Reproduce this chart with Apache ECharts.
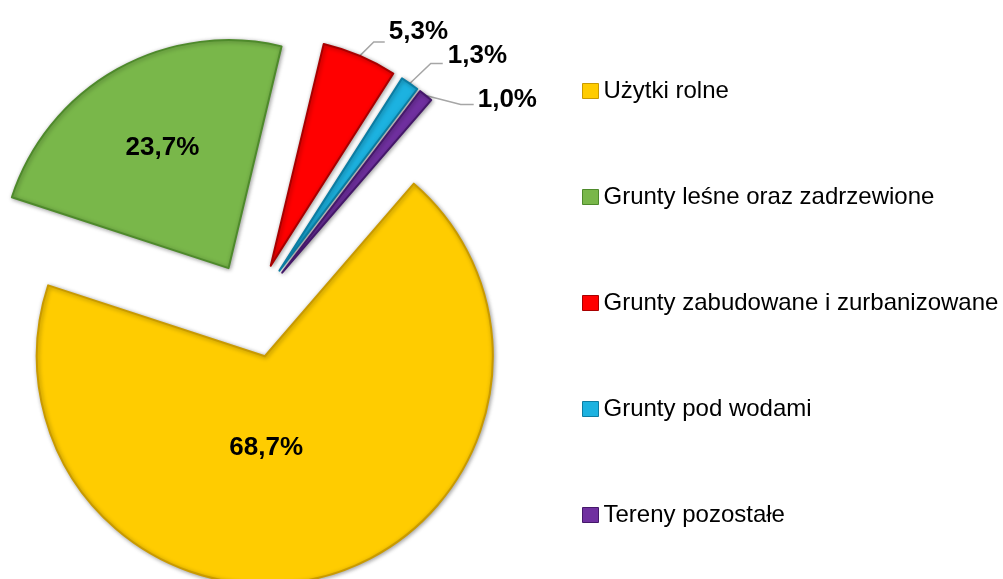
<!DOCTYPE html>
<html><head><meta charset="utf-8">
<script src="https://cdn.jsdelivr.net/npm/echarts@6/dist/echarts.min.js"></script>
<style>html,body{margin:0;padding:0;background:#fff}#c{width:1003px;height:579px}</style>
</head><body><div id="c"></div>
<script>
// ---- data ----
const categories = ['Użytki rolne', 'Grunty leśne oraz zadrzewione', 'Grunty zabudowane i zurbanizowane', 'Grunty pod wodami', 'Tereny pozostałe'];
const values = [68.7, 23.7, 5.3, 1.3, 1.0];

// ---- styles ----
const colors = ['#FFCC00', '#79B74A', '#FF0000', '#1CB2E0', '#7030A0'];
const rimColors = ['#C99A00', '#4E8A2B', '#A80000', '#0C7DA3', '#45186A'];
const labelPos = ['inside', 'inside', 'outside', 'outside', 'outside'];
// inside: shift from default; outside: leader bend (bx,by), horizontal run hx, text offset (tx,ty)
const labelAdj = [
  {dx: -30, dy: -21},
  {dx: -9, dy: -18},
  {bx: 14, by: -14, hx: 11, tx: 4, ty: -10},
  {bx: 21, by: -20, hx: 12, tx: 5, ty: -8},
  {bx: 35, by: 9, hx: 13, tx: 4, ty: -5}
];
const C = [252, 310], R = 228, EXPLODE = 48, START = 49.2;
const labelFont = "'Liberation Sans', Arial, sans-serif";

const total = values.reduce((a, b) => a + b, 0);
let acc = 0;
const series = categories.map((name, k) => {
  const midDeg = START - (acc + values[k] / 2) / total * 360;
  acc += values[k];
  const rad = midDeg * Math.PI / 180;
  const center = [C[0] + EXPLODE * Math.cos(rad), C[1] - EXPLODE * Math.sin(rad)];
  const adj = labelAdj[k];
  return {
    type: 'pie',
    center: center,
    radius: R,
    startAngle: START,
    clockwise: true,
    avoidLabelOverlap: false,
    silent: true,
    animation: false,
    label: {
      position: labelPos[k],
      fontFamily: labelFont,
      fontWeight: 'bold',
      fontSize: 26,
      color: '#000',
      formatter: p => p.value.toFixed(1).replace('.', ',') + '%'
    },
    labelLine: {
      length: 10, length2: 10,
      lineStyle: {color: '#A6A6A6', width: 1.5}
    },
    labelLayout: function (p) {
      if (p.dataIndex !== k) return {};
      const r = p.labelRect;
      if (labelPos[k] === 'inside') {
        return {x: r.x + r.width / 2 + adj.dx, y: r.y + r.height / 2 + adj.dy, align: 'center', verticalAlign: 'middle'};
      }
      const s = p.labelLinePoints[0];
      const b = [s[0] + adj.bx, s[1] + adj.by];
      const e = [b[0] + adj.hx, b[1]];
      return {
        x: e[0] + adj.tx, y: e[1] + adj.ty, align: 'left', verticalAlign: 'middle',
        labelLinePoints: [s, b, e]
      };
    },
    data: categories.map((n, i) => ({
      name: n,
      value: values[i],
      itemStyle: i === k
        ? {color: colors[i], borderColor: rimColors[i], borderWidth: 2,
           shadowBlur: 4, shadowColor: 'rgba(0,0,0,0.35)', shadowOffsetX: 1, shadowOffsetY: 1}
        : {color: 'rgba(0,0,0,0)', borderWidth: 0},
      label: {show: i === k},
      labelLine: {show: i === k && labelPos[i] === 'outside'}
    }))
  };
});

const chart = echarts.init(document.getElementById('c'), null, {renderer: 'canvas'});
chart.setOption({
  backgroundColor: '#fff',
  animation: false,
  legend: {
    orient: 'vertical',
    left: 577,
    top: 74,
    itemWidth: 16,
    itemHeight: 15,
    itemGap: 82,
    icon: 'rect',
    selectedMode: false,
    textStyle: {fontFamily: "'Liberation Sans', Arial, sans-serif", fontSize: 24, color: '#000', lineHeight: 24},
    data: categories.map((n, i) => ({name: n, itemStyle: {color: colors[i], borderColor: rimColors[i], borderWidth: 1}}))
  },
  series: series
});
</script>
</body></html>
